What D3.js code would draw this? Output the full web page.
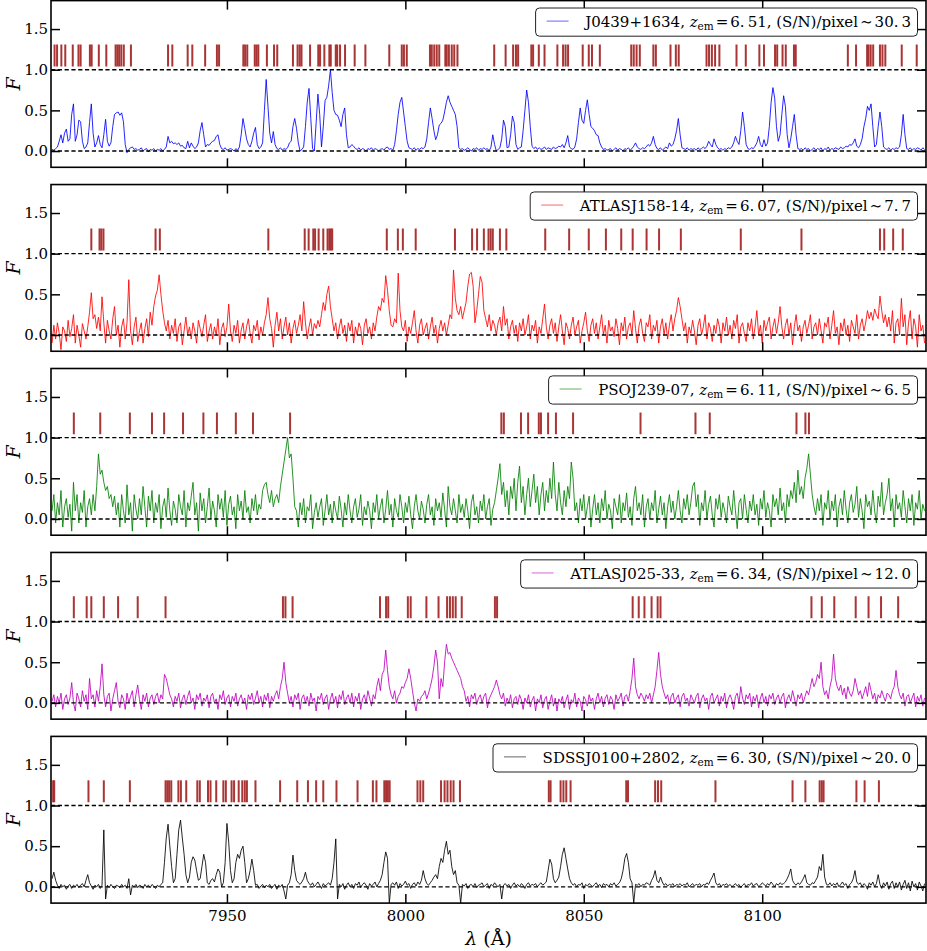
<!DOCTYPE html>
<html><head><meta charset="utf-8">
<script src="https://cdn.jsdelivr.net/npm/d3@7"></script>
<style>body{margin:0;background:#fff}svg{display:block}</style>
</head><body>
<svg id="c" width="927" height="951"></svg>
<script>
// ---------------- DATA ----------------
const waveStart = 7901.0;   // Å, first flux pixel (regular 0.5 Å grid)
const waveStep = 0.5;
const qsoNames = ["J0439+1634", "ATLASJ158-14", "PSOJ239-07", "ATLASJ025-33", "SDSSJ0100+2802"];
const zemValues = ["6.51", "6.07", "6.11", "6.34", "6.30"];
const snrValues = ["30.3", "7.7", "6.5", "12.0", "20.0"];
const xTickValues = [7950, 8000, 8050, 8100];
const yTickValues = [0.0, 0.5, 1.0, 1.5];

const flux1 = [
0.02,0.01,0.03,0.05,0.12,0.2,0.1,0.22,0.27,0.12,
0.15,0.45,0.58,0.12,0.2,0.38,0.36,0.12,0.03,0.05,
0.1,0.35,0.58,0.22,0.05,0.1,0.19,0.08,0.04,0.2,
0.39,0.12,0.06,0.1,0.3,0.45,0.47,0.48,0.44,0.47,
0.36,0.08,-0.02,0.02,0.04,0.05,0.02,0.03,0.01,0.02,
0.04,0.0,0.02,0.03,-0.01,0.02,0.01,0.03,0.0,0.02,
0.01,0.03,0.0,0.02,0.05,0.18,0.1,0.12,0.09,0.1,
0.08,0.1,0.06,0.07,0.04,0.03,0.12,0.04,0.1,0.06,
0.03,0.05,0.1,0.25,0.35,0.2,0.05,0.08,0.07,0.1,
0.12,0.13,0.18,0.2,0.08,0.03,0.02,0.04,0.01,0.02,
0.03,0.02,0.0,0.03,0.01,0.05,0.2,0.4,0.28,0.15,
0.08,0.05,0.12,0.22,0.29,0.08,0.03,0.05,0.1,0.5,
0.88,0.55,0.22,0.1,0.24,0.08,0.03,0.02,0.04,0.01,
0.03,0.02,0.04,0.1,0.12,0.3,0.4,0.28,0.1,0.0,
0.02,0.05,0.3,0.6,0.77,0.4,0.03,0.0,0.35,0.7,
0.45,0.05,0.3,0.62,0.66,0.8,1.0,0.72,0.5,0.45,
0.44,0.38,0.3,0.45,0.53,0.2,0.04,0.05,0.08,0.06,
0.03,0.02,0.04,0.01,0.03,0.02,0.0,0.03,0.02,0.04,
0.01,0.03,0.02,0.0,0.02,0.03,0.01,0.04,0.05,0.02,
0.03,0.01,0.08,0.25,0.45,0.6,0.66,0.48,0.3,0.12,
0.04,0.03,0.02,0.04,0.01,0.03,0.02,0.04,0.03,0.05,
0.15,0.35,0.53,0.4,0.25,0.14,0.2,0.32,0.34,0.38,
0.48,0.6,0.68,0.6,0.55,0.5,0.45,0.3,0.04,0.02,
0.03,0.01,0.02,0.04,0.02,0.0,0.03,0.02,0.04,0.01,
0.03,0.02,0.04,0.02,0.03,0.0,0.05,0.2,0.08,0.0,
0.02,0.04,0.15,0.38,0.3,0.04,0.05,0.2,0.43,0.35,
0.08,0.02,0.04,0.05,0.25,0.5,0.75,0.6,0.3,0.06,
0.03,0.05,0.02,0.04,0.02,0.03,0.05,0.02,0.04,0.03,
0.02,0.05,0.03,0.04,0.06,0.05,0.08,0.04,0.1,0.19,
0.05,0.03,0.02,0.05,0.15,0.35,0.53,0.38,0.34,0.5,
0.63,0.45,0.3,0.28,0.25,0.2,0.19,0.1,0.05,0.02,
0.03,0.01,0.02,0.03,0.0,0.02,0.04,0.01,0.03,0.02,
0.0,0.03,0.02,0.04,0.01,0.03,0.06,0.1,0.05,0.03,
0.02,0.04,0.03,0.05,0.08,0.06,0.1,0.18,0.08,0.03,
0.02,0.04,0.01,0.03,0.05,0.03,0.1,0.06,0.08,0.15,
0.25,0.4,0.2,0.04,0.03,0.02,0.04,0.01,0.03,0.02,
0.03,0.01,0.04,0.02,0.03,0.05,0.03,0.06,0.12,0.08,
0.05,0.15,0.08,0.04,0.02,0.03,0.01,0.03,0.02,0.04,
0.03,0.05,0.1,0.18,0.12,0.08,0.25,0.48,0.3,0.08,
0.03,0.02,0.04,0.03,0.06,0.1,0.18,0.08,0.05,0.14,
0.06,0.1,0.3,0.6,0.78,0.65,0.3,0.12,0.2,0.45,
0.68,0.55,0.2,0.04,0.15,0.3,0.45,0.2,0.03,0.02,
0.03,0.01,0.04,0.02,0.03,0.0,0.02,0.04,0.01,0.03,
0.02,0.04,0.0,0.03,0.02,0.05,0.01,0.03,0.02,0.04,
0.03,0.02,0.05,0.03,0.04,0.06,0.05,0.08,0.07,0.1,
0.15,0.06,0.04,0.08,0.15,0.3,0.4,0.55,0.5,0.58,
0.3,0.05,0.08,0.3,0.48,0.3,0.05,0.03,0.02,0.04,
0.01,0.03,0.02,0.04,0.03,0.05,0.2,0.45,0.2,0.03,
0.02,0.04,0.01,0.03,0.02,0.04,0.03,0.01,0.04,0.02];

const flux2 = [
-0.1,0.12,-0.05,0.15,0.02,-0.18,0.1,0.05,-0.08,0.18,
-0.02,0.08,0.25,-0.1,0.12,0.0,-0.15,0.14,0.05,-0.05,
0.1,0.28,0.52,0.2,0.25,0.08,0.22,0.05,0.47,0.15,
-0.1,0.18,0.05,-0.05,0.2,0.35,0.0,0.12,-0.15,0.1,
0.2,-0.05,0.15,0.68,0.05,-0.12,0.1,0.22,-0.08,0.05,
0.15,-0.1,0.08,0.2,-0.02,0.28,0.12,0.35,0.48,0.55,
0.74,0.5,0.3,0.15,0.05,0.18,-0.05,0.12,0.02,0.2,
-0.08,0.1,0.15,-0.12,0.05,0.22,0.0,0.1,-0.05,0.15,
0.05,-0.1,0.18,0.08,-0.02,0.12,0.25,-0.08,0.05,0.14,
-0.05,0.1,0.0,0.2,-0.12,0.08,0.15,-0.02,0.1,0.38,
0.05,-0.08,0.12,0.02,0.18,-0.1,0.06,0.15,-0.05,0.1,
0.2,0.02,-0.1,0.12,0.05,0.18,-0.06,0.1,0.0,0.15,
0.25,0.46,0.2,0.08,-0.15,0.12,0.28,0.05,0.2,-0.05,
0.1,0.22,0.0,0.15,-0.1,0.08,0.18,0.02,0.12,0.25,
0.05,0.41,0.15,-0.05,0.1,0.2,0.0,0.14,0.08,0.18,
0.1,0.25,0.4,0.3,0.5,0.6,0.35,0.2,0.05,0.15,
-0.05,0.1,0.2,0.02,0.12,-0.08,0.15,0.05,0.18,-0.1,
0.1,0.0,0.15,0.08,-0.12,0.12,0.2,0.02,0.1,-0.05,
0.15,0.05,0.22,0.35,0.3,0.45,0.4,0.73,0.55,0.3,
0.12,0.1,0.2,0.15,0.76,0.3,0.1,0.05,0.18,-0.08,
0.1,0.02,0.15,0.3,0.05,-0.1,0.12,0.2,0.0,0.08,
0.15,-0.05,0.1,0.22,0.02,0.12,-0.1,0.08,0.18,0.05,
0.15,0.0,0.12,0.25,0.2,0.8,0.45,0.3,0.25,0.35,
0.2,0.3,0.4,0.6,0.75,0.77,0.6,0.15,0.3,0.5,
0.72,0.65,0.3,0.2,0.1,0.25,0.05,0.18,0.12,0.0,
0.15,0.22,0.05,0.35,0.12,0.2,-0.05,0.1,0.18,0.02,
0.12,-0.08,0.15,0.05,0.2,0.0,0.1,0.25,-0.05,0.12,
0.05,0.18,-0.1,0.1,0.02,0.2,0.38,0.1,-0.05,0.12,
0.2,0.02,0.15,-0.08,0.1,0.25,0.05,-0.12,0.15,0.08,
-0.05,0.12,0.22,0.0,0.1,0.18,-0.1,0.05,0.15,0.28,
0.05,-0.08,0.12,0.2,0.02,0.15,-0.05,0.1,0.25,0.0,
0.12,-0.1,0.18,0.05,0.1,-0.02,0.2,0.08,-0.12,0.15,
0.05,0.22,-0.05,0.1,0.15,0.0,0.3,0.08,-0.1,0.12,
0.2,0.02,-0.08,0.15,0.1,0.25,-0.05,0.12,0.05,0.18,
-0.1,0.1,0.2,0.0,0.15,-0.05,0.12,0.25,0.05,0.2,
0.3,0.46,0.35,0.2,0.05,0.15,-0.1,0.1,0.02,0.18,
0.05,-0.12,0.12,0.2,0.0,0.1,0.25,-0.05,0.15,0.08,
-0.08,0.12,0.02,0.2,0.1,-0.1,0.15,0.05,0.22,0.0,
0.12,-0.05,0.18,0.08,0.25,-0.1,0.1,0.15,0.02,-0.08,
0.15,0.05,0.2,-0.05,0.1,0.3,0.0,0.12,-0.1,0.18,
0.05,0.15,0.22,-0.05,0.1,0.2,0.02,0.15,0.35,0.1,
-0.05,0.12,0.2,0.0,0.15,-0.12,0.1,0.25,0.05,0.12,
-0.08,0.1,0.18,0.02,0.12,0.25,-0.05,0.1,0.15,0.0,
0.2,0.05,-0.1,0.15,0.1,0.22,-0.05,0.12,0.3,0.02,
0.1,-0.12,0.15,0.05,0.2,0.0,0.12,-0.08,0.18,0.1,
0.02,0.25,-0.05,0.12,0.2,0.05,0.15,0.3,0.2,0.28,
0.18,0.32,0.25,0.2,0.48,0.3,0.15,0.25,0.1,0.22,
0.05,0.3,-0.1,0.15,0.2,0.0,0.45,0.1,0.25,-0.12,
0.15,0.3,-0.05,0.2,0.1,-0.15,0.25,0.05,0.12,-0.1];

const flux3 = [
0.1,0.3,-0.05,0.2,0.05,0.35,-0.1,0.15,0.25,0.02,
0.18,-0.15,0.45,0.1,0.3,-0.05,0.2,0.08,0.35,-0.1,
0.15,0.25,0.05,0.3,0.1,0.4,0.8,0.55,0.6,0.45,
0.35,0.4,0.25,0.3,0.15,0.28,0.05,0.2,-0.1,0.3,
0.1,-0.05,0.42,0.05,0.2,-0.15,0.3,0.12,0.0,0.25,
0.05,0.4,0.15,-0.1,0.28,0.1,0.35,-0.05,0.2,0.08,
0.3,-0.12,0.15,0.25,0.02,0.38,0.1,-0.08,0.22,0.12,
-0.05,0.3,0.15,0.05,0.35,-0.1,0.2,0.1,0.28,0.45,
0.05,0.2,-0.15,0.32,0.1,0.25,-0.05,0.15,0.38,0.0,
0.22,0.1,-0.1,0.3,0.12,0.25,0.02,0.35,-0.08,0.18,
0.28,0.05,0.15,-0.12,0.3,0.1,0.22,0.0,0.35,0.08,
0.15,-0.05,0.25,0.1,0.3,0.05,0.18,0.12,0.35,0.42,
0.45,0.3,0.2,0.35,0.15,0.25,0.3,0.2,0.4,0.55,
0.7,0.85,1.0,0.75,0.8,0.5,0.15,0.1,-0.1,0.2,
0.05,0.25,-0.05,0.15,0.1,0.3,-0.12,0.08,0.2,0.02,
0.15,0.25,-0.08,0.1,0.3,0.05,0.18,-0.05,0.22,0.1,
0.0,0.28,0.12,-0.1,0.2,0.05,0.3,0.1,-0.05,0.15,
0.25,0.02,0.12,0.3,-0.08,0.15,0.05,0.22,0.1,-0.12,
0.2,0.08,0.3,0.0,0.15,0.25,-0.05,0.12,0.35,0.05,
0.18,-0.1,0.25,0.1,0.02,0.3,0.15,-0.05,0.2,0.08,
0.28,0.05,-0.12,0.15,0.3,0.1,0.0,0.22,0.12,-0.05,
0.18,0.3,0.05,0.15,-0.08,0.25,0.1,0.2,0.02,0.32,
0.12,-0.1,0.4,0.15,0.05,0.25,0.1,-0.05,0.3,0.08,
0.18,0.02,0.25,0.1,-0.12,0.2,0.3,0.05,0.15,-0.05,
0.22,0.1,0.3,0.0,0.15,0.25,-0.08,0.12,0.2,0.35,
0.5,0.68,0.3,0.45,0.15,0.35,0.05,0.4,0.25,0.5,
0.1,0.45,0.65,0.2,0.4,0.05,0.3,0.5,0.15,0.35,
0.55,0.2,0.4,0.05,0.3,0.45,0.1,0.35,0.2,0.5,
0.25,0.7,0.3,0.1,0.45,0.2,0.05,0.35,0.15,0.4,
0.25,0.7,0.5,0.1,0.2,-0.05,0.25,0.1,0.3,0.0,
0.15,0.28,-0.1,0.12,0.3,0.05,0.2,-0.05,0.25,0.1,
0.35,0.0,0.18,0.1,-0.12,0.25,0.15,0.05,0.3,-0.05,
0.2,0.1,0.32,0.02,0.15,-0.08,0.25,0.4,0.1,0.2,
0.05,0.3,-0.1,0.15,0.25,0.0,0.2,0.1,0.35,-0.05,
0.12,0.28,0.05,0.2,-0.12,0.15,0.3,0.08,0.22,0.0,
0.15,0.35,0.1,-0.05,0.25,0.12,0.3,0.05,0.2,0.4,
0.45,0.15,0.3,-0.08,0.2,0.1,0.35,0.0,0.18,0.28,
0.05,-0.1,0.25,0.12,0.3,0.02,0.2,0.1,-0.05,0.28,
0.15,0.05,0.35,0.1,-0.12,0.2,0.25,0.0,0.3,0.12,
-0.05,0.22,0.1,0.3,0.05,0.18,-0.08,0.25,0.12,0.35,
0.02,0.2,0.1,-0.1,0.3,0.15,0.25,0.05,0.38,0.1,
0.2,-0.05,0.3,0.15,0.35,0.25,0.45,0.2,0.6,0.3,
0.4,0.25,0.5,0.62,0.8,0.55,0.3,0.15,0.05,0.25,
0.1,0.3,-0.08,0.2,0.12,0.35,0.0,0.22,0.1,0.3,
-0.1,0.15,0.25,0.05,0.35,0.12,-0.05,0.2,0.3,0.08,
0.18,0.4,0.02,0.25,0.1,-0.12,0.3,0.15,0.22,0.05,
0.35,0.1,-0.05,0.28,0.15,0.45,0.05,0.2,0.3,0.5,
0.1,0.25,-0.1,0.3,0.12,0.2,0.02,0.35,0.15,-0.05,
0.25,0.1,0.3,-0.08,0.2,0.12,0.35,0.0,0.18,0.1];

const flux4 = [
0.02,0.1,-0.05,0.08,0.0,0.12,-0.08,0.05,0.1,-0.02,
0.06,0.25,0.0,-0.1,0.12,0.05,-0.05,0.15,0.02,0.1,
-0.08,0.3,0.05,0.1,-0.05,0.15,0.02,0.2,0.48,0.1,
-0.05,0.08,0.12,-0.1,0.05,0.15,0.25,0.02,-0.06,0.1,
0.05,-0.08,0.12,0.0,0.08,0.15,-0.05,0.1,0.22,0.04,
-0.08,0.1,0.02,0.12,-0.05,0.06,0.1,-0.02,0.08,0.12,
0.0,0.1,0.05,0.35,0.3,0.2,0.1,0.05,-0.05,0.08,
0.02,0.12,-0.06,0.05,0.1,-0.02,0.08,0.15,0.0,0.06,
-0.08,0.1,0.04,0.12,-0.04,0.06,0.02,0.1,-0.06,0.08,
0.12,0.0,0.05,-0.08,0.1,0.04,0.15,-0.02,0.06,0.1,
-0.05,0.08,0.02,0.12,-0.04,0.05,0.1,0.0,0.06,-0.08,
0.1,0.04,0.12,-0.02,0.06,0.15,0.0,0.08,-0.05,0.1,
0.03,0.12,-0.06,0.08,0.02,0.1,0.15,0.05,0.2,0.3,
0.5,0.25,0.12,0.0,0.08,-0.05,0.1,0.04,0.12,-0.08,
0.06,0.1,0.0,0.08,-0.04,0.12,0.02,0.06,-0.1,0.08,
0.04,0.12,-0.02,0.06,0.1,-0.08,0.05,0.12,0.0,0.08,
-0.06,0.1,0.04,0.15,-0.02,0.06,0.1,0.0,0.12,-0.05,
0.08,0.02,0.12,-0.08,0.05,0.1,0.0,0.15,0.06,-0.04,
0.1,0.05,0.2,0.3,0.15,0.35,0.4,0.65,0.4,0.2,
0.1,0.05,0.15,0.0,0.08,0.12,0.2,0.18,0.25,0.3,
0.42,0.3,0.15,0.0,-0.1,0.05,0.02,0.08,0.1,0.15,
0.05,0.12,0.2,0.3,0.45,0.65,0.5,0.05,0.3,0.2,
0.5,0.72,0.6,0.62,0.55,0.5,0.45,0.4,0.35,0.3,
0.2,0.15,0.02,0.08,-0.05,0.1,0.05,0.12,-0.02,0.06,
0.1,0.0,0.08,0.12,-0.06,0.05,0.1,0.15,0.2,0.28,
0.2,0.1,0.05,0.12,-0.04,0.06,0.0,0.1,-0.06,0.05,
0.08,-0.02,0.1,0.04,-0.08,0.06,0.0,0.1,-0.05,0.03,
0.08,-0.1,0.05,0.0,0.1,-0.06,0.04,0.08,-0.08,0.02,
0.1,-0.04,0.06,-0.1,0.05,0.0,0.08,-0.06,0.03,0.1,
-0.08,0.04,0.0,0.12,-0.05,0.06,0.02,-0.1,0.08,0.04,
-0.04,0.1,0.02,0.06,-0.08,0.05,0.12,0.0,0.08,-0.05,
0.06,0.1,-0.02,0.08,0.04,-0.08,0.1,0.02,0.06,0.12,
-0.04,0.08,0.1,0.02,0.15,0.3,0.55,0.2,0.1,0.05,
0.12,0.08,0.02,0.1,0.05,0.12,0.0,0.1,0.2,0.4,
0.62,0.35,0.2,0.12,0.05,0.1,-0.02,0.08,0.12,0.0,
0.06,0.1,-0.05,0.08,0.12,0.02,0.06,-0.04,0.1,0.05,
0.0,0.08,0.12,-0.06,0.05,0.1,0.02,0.06,-0.08,0.08,
0.12,0.0,0.05,0.1,-0.04,0.08,0.02,0.12,-0.06,0.05,
0.1,0.04,-0.08,0.08,0.12,0.0,0.2,0.06,-0.02,0.1,
0.05,0.12,-0.05,0.08,0.02,0.1,-0.06,0.06,0.12,0.0,
0.08,-0.04,0.1,0.05,0.12,-0.02,0.06,0.1,0.0,0.08,
0.12,-0.06,0.05,0.1,0.02,0.15,0.06,-0.04,0.1,0.05,
0.12,0.0,0.08,0.15,0.1,0.2,0.3,0.2,0.25,0.35,
0.3,0.5,0.2,0.1,0.15,0.05,0.2,0.3,0.6,0.3,
0.2,0.15,0.22,0.1,0.18,0.05,0.2,0.12,0.08,0.15,
0.3,0.2,0.1,0.15,0.05,0.12,0.2,0.08,0.25,0.15,
0.05,0.12,0.0,0.1,0.06,0.15,0.08,0.02,0.12,0.1,
0.05,0.15,0.2,0.4,0.2,0.1,0.05,0.12,-0.04,0.08,
0.1,0.0,0.06,0.12,-0.05,0.08,0.02,0.1,-0.04,0.06];

const flux5 = [
0.1,0.18,0.08,0.02,-0.02,0.03,0.0,0.02,-0.03,0.01,
0.03,-0.02,0.02,0.0,0.03,-0.01,0.02,0.04,0.0,0.08,
0.15,0.05,0.01,-0.03,0.02,0.0,0.03,-0.02,0.02,0.7,
-0.15,0.02,-0.01,0.03,0.0,-0.02,0.02,0.01,-0.01,0.03,
0.0,0.02,-0.02,0.1,-0.1,0.02,0.0,0.03,-0.01,0.02,
0.01,-0.02,0.03,0.0,0.02,-0.01,0.03,0.01,-0.02,0.02,
0.0,0.03,0.05,0.3,0.6,0.77,0.5,0.25,0.05,0.1,
0.4,0.7,0.82,0.6,0.4,0.15,0.05,0.12,0.3,0.37,
0.33,0.2,0.08,0.1,0.25,0.4,0.3,0.05,0.03,0.08,
0.1,0.06,0.15,0.22,0.18,0.0,0.05,0.3,0.78,0.55,
0.2,0.05,0.1,0.3,0.4,0.35,0.45,0.5,0.3,0.05,
0.1,0.2,0.34,0.2,0.02,0.03,-0.02,0.01,0.03,-0.01,
0.02,0.0,0.03,-0.02,0.01,0.03,-0.03,0.02,0.0,0.03,
-0.05,-0.15,0.02,0.05,0.15,0.39,0.2,0.08,0.05,0.03,
0.06,0.1,0.18,0.08,0.04,0.02,0.05,0.0,0.03,0.06,
0.02,-0.02,0.04,0.01,0.03,0.05,0.02,0.1,0.3,0.59,
-0.15,0.03,0.0,0.04,-0.03,0.02,0.05,0.0,0.03,-0.02,
0.04,0.02,0.06,-0.01,0.03,0.05,0.02,-0.03,0.04,0.01,
0.03,0.06,0.0,0.04,0.08,0.15,0.3,0.43,0.35,-0.2,
0.03,0.05,0.02,0.06,-0.02,0.04,0.01,0.03,0.07,0.02,
0.04,-0.02,0.03,0.05,0.01,0.06,0.03,0.08,0.2,0.1,
0.04,0.02,0.05,0.08,0.12,0.15,0.1,0.25,0.35,0.3,
0.45,0.56,0.4,0.45,0.25,0.15,0.2,0.05,0.02,-0.2,
0.03,0.01,0.04,-0.02,0.02,0.03,0.0,0.04,-0.01,0.02,
0.03,0.05,0.0,0.02,0.04,-0.02,0.03,0.01,0.05,0.02,
0.0,0.03,-0.15,0.02,0.04,0.01,0.03,-0.02,0.02,0.05,
0.01,0.03,0.0,0.04,0.02,-0.02,0.03,0.05,0.01,0.03,
0.02,0.04,0.0,0.03,0.05,0.02,0.04,0.06,0.2,0.34,
0.28,0.1,0.05,0.08,0.12,0.25,0.4,0.48,0.35,0.22,
0.1,0.05,0.02,0.04,0.0,0.03,0.02,0.05,-0.02,0.03,
0.01,0.04,0.02,0.0,0.03,0.05,0.01,0.03,-0.01,0.04,
0.02,0.03,0.0,0.04,0.02,0.05,0.01,0.03,0.05,0.1,
0.2,0.35,0.41,0.3,0.1,0.05,-0.2,0.03,0.02,0.04,
0.0,0.03,0.02,0.05,0.04,0.02,0.08,0.12,0.2,0.08,
0.05,0.12,0.06,0.02,0.04,0.01,0.03,0.02,0.04,0.0,
0.03,0.02,0.04,0.01,0.03,0.02,0.05,0.0,0.02,0.04,
0.01,0.03,0.02,0.04,0.0,0.03,0.02,0.05,0.03,0.08,
0.12,0.17,0.05,0.02,0.04,0.0,0.03,0.02,0.04,0.01,
0.03,0.0,0.02,0.04,0.01,0.03,-0.01,0.02,0.04,0.0,
0.03,0.02,0.05,0.01,0.03,0.04,0.0,0.02,0.05,0.03,
0.01,0.04,0.02,0.06,0.03,0.0,0.04,0.02,0.05,0.03,
0.04,0.06,0.1,0.15,0.22,0.08,0.04,0.02,0.05,0.03,
0.06,0.1,0.15,0.05,0.03,0.02,0.05,0.04,0.08,0.12,
0.25,0.2,0.4,0.12,0.03,0.02,0.05,0.01,0.04,0.02,
0.05,0.0,0.03,0.06,0.02,0.04,-0.02,0.03,0.05,0.1,
0.2,0.06,0.03,0.05,0.0,0.04,0.02,-0.03,0.05,0.02,
0.06,0.0,0.04,0.15,0.03,-0.02,0.05,0.01,0.06,-0.03,
0.04,0.07,-0.02,0.05,0.0,0.06,-0.04,0.03,0.08,-0.02,
0.05,-0.05,0.07,0.0,0.04,-0.04,0.06,0.01,-0.05,0.04];

// absorber wavelengths (Å), drawn as tick marks above the continuum
const abs1 = [7901.7,7902.4,7903.6,7904.7,7906.8,7908.4,7909.0,7911.6,7912.1,7914.1,7916.2,7918.8,7919.3,7919.8,7920.4,7921.1,7923.1,7933.5,7934.7,7939.0,7940.3,7943.9,7947.2,7947.8,7954.6,7955.1,7955.7,7957.8,7958.3,7958.8,7961.2,7963.2,7964.1,7968.5,7969.8,7970.4,7970.9,7973.3,7975.6,7976.1,7977.3,7978.7,7979.1,7980.5,7980.9,7981.7,7983.1,7985.8,7988.8,7995.5,7999.0,7999.6,8000.4,8006.9,8007.4,8008.1,8008.8,8009.5,8011.2,8011.6,8012.2,8013.0,8013.7,8014.6,8024.9,8028.1,8030.2,8031.0,8031.6,8035.3,8035.8,8037.4,8039.0,8042.6,8044.2,8044.9,8045.6,8049.7,8051.4,8052.3,8054.5,8063.3,8064.0,8064.8,8065.7,8069.5,8070.2,8074.3,8075.8,8076.6,8084.4,8085.1,8085.9,8086.8,8088.0,8092.8,8095.4,8099.2,8100.5,8103.6,8104.2,8105.7,8106.6,8108.9,8109.4,8124.0,8126.3,8129.4,8129.8,8130.4,8131.1,8133.0,8133.7,8134.5,8139.1,8143.3];
const abs2 = [7912.0,7914.3,7914.8,7915.4,7930.0,7931.2,7961.6,7971.8,7972.9,7974.2,7974.7,7975.7,7977.0,7978.2,7978.7,7979.1,7979.5,7994.8,7997.9,7999.3,8002.9,8013.9,8018.7,8020.1,8022.0,8023.3,8023.9,8024.5,8026.5,8028.3,8039.2,8045.9,8051.4,8056.2,8060.5,8063.7,8067.6,8071.1,8077.2,8094.0,8111.0,8133.0,8134.2,8136.7,8139.4];
const abs3 = [7907.1,7914.5,7922.8,7929.0,7932.4,7937.7,7943.4,7947.2,7952.5,7957.3,7967.7,8026.9,8027.6,8032.4,8034.4,8037.4,8038.0,8040.0,8042.2,8047.0,8065.9,8081.3,8085.3,8109.6,8112.1,8113.1];
const abs4 = [7907.1,7910.7,7912.0,7915.5,7919.5,7925.0,7932.8,7965.7,7966.4,7968.4,7992.9,7994.6,7995.2,8000.7,8001.5,8005.9,8009.3,8011.7,8012.5,8013.3,8014.1,8015.8,8025.1,8025.7,8063.7,8065.4,8067.0,8069.0,8070.7,8071.5,8113.8,8116.7,8120.2,8126.2,8129.8,8133.3,8138.1];
const abs5 = [7901.3,7901.6,7911.2,7915.5,7922.8,7932.8,7933.3,7933.8,7934.4,7936.4,7937.1,7938.6,7941.7,7942.4,7944.7,7945.4,7947.0,7949.0,7949.7,7951.3,7952.0,7953.3,7954.3,7955.0,7955.6,7958.0,7964.9,7969.7,7972.7,7975.0,7977.0,7980.7,7986.6,7990.9,7991.9,7994.1,7994.6,7995.1,7995.6,8003.4,8004.2,8005.0,8010.0,8011.0,8011.8,8012.7,8013.5,8015.3,8040.2,8040.7,8043.5,8044.3,8045.1,8046.3,8061.9,8062.4,8070.0,8070.8,8071.7,8086.9,8108.5,8112.1,8116.1,8116.7,8117.2,8126.4,8128.7,8132.7];

// ---------------- STYLE / LAYOUT ----------------
const spectra = [flux1, flux2, flux3, flux4, flux5];
const absorbers = [abs1, abs2, abs3, abs4, abs5];
const lineColors = ["#0000ff", "#ff0000", "#008000", "#bf00bf", "#000000"];
const serif = "'DejaVu Serif', serif";
const plotLeft = 51, plotRight = 926, panelH = 166.7, pitch = 183.95, top0 = 0.6;

const svg = d3.select("#c");
const defs = svg.append("defs");
const x = d3.scaleLinear().domain([7900.7, 8145.9]).range([plotLeft, plotRight]);

spectra.forEach((flux, i) => {
  const top = top0 + i * pitch;
  const bottom = top + panelH;
  const y = d3.scaleLinear().domain([-0.2, 1.85]).range([bottom, top]);
  const g = svg.append("g");
  const clipId = "clip" + i;
  defs.append("clipPath").attr("id", clipId).append("rect")
    .attr("x", plotLeft).attr("y", top).attr("width", plotRight - plotLeft).attr("height", panelH);

  const pts = flux.map((f, k) => [waveStart + k * waveStep, f]);
  g.append("path").datum(pts)
    .attr("clip-path", `url(#${clipId})`)
    .attr("d", d3.line().x(d => x(d[0])).y(d => y(d[1])))
    .attr("fill", "none").attr("stroke", lineColors[i])
    .attr("stroke-width", 1).attr("stroke-opacity", 0.85).attr("stroke-linejoin", "round");

  g.append("g").attr("clip-path", `url(#${clipId})`)
    .selectAll("line").data(absorbers[i]).join("line")
    .attr("x1", d => x(d)).attr("x2", d => x(d))
    .attr("y1", y(1.04)).attr("y2", y(1.31))
    .attr("stroke", "#a52a2a").attr("stroke-width", 2).attr("stroke-opacity", 0.95);

  [0, 1].forEach(v => {
    g.append("line").attr("x1", plotLeft).attr("x2", plotRight)
      .attr("y1", y(v)).attr("y2", y(v))
      .attr("stroke", "#000").attr("stroke-width", 1.4).attr("stroke-dasharray", "4.2,2.6");
  });

  // axes (inward ticks)
  const isLast = i === spectra.length - 1;
  const axB = g.append("g").attr("transform", `translate(0,${bottom})`)
    .call(d3.axisBottom(x).tickValues(xTickValues).tickSizeInner(-9).tickSizeOuter(0).tickPadding(7)
      .tickFormat(isLast ? d3.format("d") : () => ""));
  const axT = g.append("g").attr("transform", `translate(0,${top})`)
    .call(d3.axisTop(x).tickValues(xTickValues).tickSizeInner(-9).tickSizeOuter(0).tickFormat(() => ""));
  const axL = g.append("g").attr("transform", `translate(${plotLeft},0)`)
    .call(d3.axisLeft(y).tickValues(yTickValues).tickSizeInner(-9).tickSizeOuter(0).tickPadding(3)
      .tickFormat(d3.format(".1f")));
  const axR = g.append("g").attr("transform", `translate(${plotRight},0)`)
    .call(d3.axisRight(y).tickValues(yTickValues).tickSizeInner(-9).tickSizeOuter(0).tickFormat(() => ""));
  [axB, axT, axL, axR].forEach(a => {
    a.select(".domain").remove();
    a.selectAll(".tick line").attr("stroke", "#000").attr("stroke-width", 1.5);
    a.selectAll("text").attr("font-family", serif).attr("font-size", 15).attr("fill", "#000");
  });

  g.append("rect").attr("x", plotLeft).attr("y", top).attr("width", plotRight - plotLeft).attr("height", panelH)
    .attr("fill", "none").attr("stroke", "#000").attr("stroke-width", 1.6);

  // y label
  g.append("text").attr("transform", `translate(13,${(top + bottom) / 2}) rotate(-90)`)
    .attr("text-anchor", "middle").attr("dominant-baseline", "central")
    .attr("font-family", serif).attr("font-style", "italic").attr("font-size", 19).text("F");

  // legend
  const lg = g.append("g");
  const box = lg.append("rect");
  const txt = lg.append("text").attr("font-family", serif).attr("font-size", 15).attr("fill", "#000")
    .attr("x", 0).attr("y", top + 26.2);
  const [za, zb] = zemValues[i].split(".");
  const [sa, sb] = snrValues[i].split(".");
  txt.append("tspan").text(qsoNames[i] + ", ");
  txt.append("tspan").attr("font-style", "italic").text("z");
  txt.append("tspan").attr("font-size", 10.5).attr("dy", 3.5).text("em");
  txt.append("tspan").attr("dy", -3.5).attr("dx", 2).text("=");
  txt.append("tspan").attr("dx", 2).text(za + ".");
  txt.append("tspan").attr("dx", 3).text(zb + ", (S/N)/pixel");
  txt.append("tspan").attr("dx", 2).text("\u223C");
  txt.append("tspan").attr("dx", 2).text(sa + ".");
  txt.append("tspan").attr("dx", 3).text(sb);
  const bb = txt.node().getBBox();
  const tw = bb.x + bb.width;   // text starts at x=0
  const boxW = tw + 49.6 + 6.5;
  const boxR = 917.5;
  const boxL = boxR - boxW;
  box.attr("x", boxL).attr("y", top + 7.4).attr("width", boxW).attr("height", 28.2)
    .attr("rx", 4).attr("fill", "#fff").attr("stroke", "#222").attr("stroke-width", 1);
  txt.attr("x", boxL + 49.6);
  lg.append("line").attr("x1", boxL + 11).attr("x2", boxL + 33)
    .attr("y1", top + 20.5).attr("y2", top + 20.5)
    .attr("stroke", lineColors[i]).attr("stroke-width", 1).attr("stroke-opacity", 0.6);
});

// x label
const xl = svg.append("text").attr("x", (plotLeft + plotRight) / 2).attr("y", 945)
  .attr("text-anchor", "middle").attr("font-family", serif).attr("font-size", 19);
xl.append("tspan").attr("font-style", "italic").text("\u03BB");
xl.append("tspan").text(" (\u00C5)");
</script>
</body></html>
